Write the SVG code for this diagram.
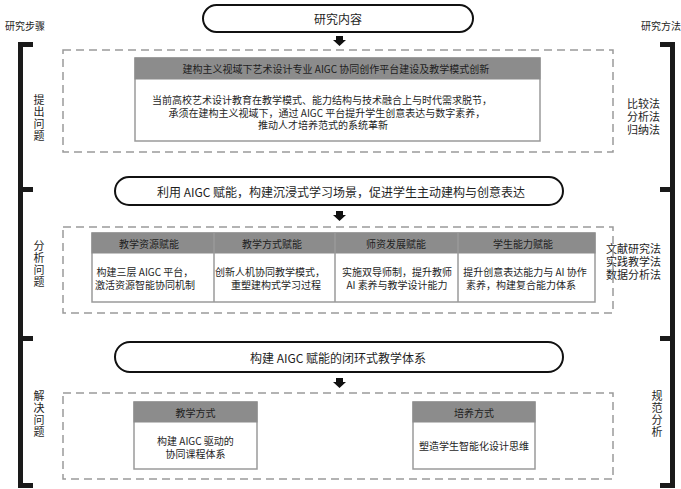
<svg xmlns="http://www.w3.org/2000/svg" width="681" height="489" viewBox="0 0 681 489">
<style>
text{font-family:"Noto Sans CJK SC","Liberation Sans",sans-serif;fill:#1e1e1e;dominant-baseline:central}
.pill{fill:#fff;stroke:#111;stroke-width:2}
.dash{fill:none;stroke:#9a9a9a;stroke-width:1.5;stroke-dasharray:8 5}
.box{fill:#fff;stroke:#9a9a9a;stroke-width:1.5}
.hdr{fill:#8c8c8c;stroke:#8c8c8c;stroke-width:1}
.div{stroke:#9a9a9a;stroke-width:1.5}
.brk{fill:#1a1a1a}
.arr{fill:#111}
.t10{font-size:10px}
.t11{font-size:11px}
.t12{font-size:12px}
.mid{text-anchor:middle}
.vert{font-size:11px;writing-mode:vertical-rl;text-anchor:middle;letter-spacing:1px}
</style>

<g id="side-left">
  <text class="t10" x="5" y="25">研究步骤</text>
  <rect class="brk" x="18" y="42" width="5" height="446"/>
  <rect class="brk" x="18" y="42" width="15" height="5"/>
  <rect class="brk" x="18" y="187" width="15" height="5"/>
  <rect class="brk" x="18" y="336" width="15" height="5"/>
  <rect class="brk" x="18" y="483" width="15" height="5"/>
  <text class="vert" x="39" y="118">提出问题</text>
  <text class="vert" x="39" y="264">分析问题</text>
  <text class="vert" x="39" y="414">解决问题</text>
</g>

<g id="side-right">
  <text class="t10" x="641" y="25">研究方法</text>
  <rect class="brk" x="670" y="42" width="5" height="446"/>
  <rect class="brk" x="660" y="42" width="15" height="5"/>
  <rect class="brk" x="660" y="187" width="15" height="5"/>
  <rect class="brk" x="660" y="336" width="15" height="5"/>
  <rect class="brk" x="660" y="483" width="15" height="5"/>
  <text class="t11"><tspan x="627" y="103">比较法</tspan><tspan x="627" y="116">分析法</tspan><tspan x="627" y="129">归纳法</tspan></text>
  <text class="t11"><tspan x="606" y="248">文献研究法</tspan><tspan x="606" y="261">实践教学法</tspan><tspan x="606" y="274">数据分析法</tspan></text>
  <text class="vert" x="657" y="414">规范分析</text>
</g>

<g id="connectors">
  <polygon class="arr" points="336,36 343,36 343,40 346,40 339.5,46 333,40 336,40"/>
  <polygon class="arr" points="336,211 343,211 343,215 346,215 339.5,221 333,215 336,215"/>
  <polygon class="arr" points="336,378 343,378 343,382 346,382 339.5,388 333,382 336,382"/>
</g>

<g id="research-content">
  <rect class="pill" x="203" y="5" width="270" height="27" rx="13.5"/>
  <text class="t12 mid" x="338" y="18.5">研究内容</text>
</g>

<g id="stage1">
  <rect class="dash" x="63" y="50" width="550" height="102"/>
  <rect class="box" x="135" y="58" width="405" height="83"/>
  <rect class="hdr" x="135" y="58" width="405" height="21"/>
  <text class="t10 mid" x="336" y="68.5">建构主义视域下艺术设计专业 AIGC 协同创作平台建设及教学模式创新</text>
  <text class="t10 mid"><tspan x="322" y="99">当前高校艺术设计教育在教学模式、能力结构与技术融合上与时代需求脱节，</tspan><tspan x="327" y="111.5">承须在建构主义视域下，通过 AIGC 平台提升学生创意表达与数字素养，</tspan><tspan x="323" y="124">推动人才培养范式的系统革新</tspan></text>
</g>

<g id="pill2">
  <rect class="pill" x="115" y="177" width="448" height="28" rx="14"/>
  <text class="t12 mid" x="341" y="191">利用 AIGC 赋能，构建沉浸式学习场景，促进学生主动建构与创意表达</text>
</g>

<g id="stage2">
  <rect class="dash" x="63" y="227" width="550" height="86"/>
  <rect class="box" x="92" y="233" width="503" height="69"/>
  <rect class="hdr" x="92" y="233" width="503" height="20"/>
  <line class="div" x1="214" y1="233" x2="214" y2="302"/>
  <line class="div" x1="335" y1="233" x2="335" y2="302"/>
  <line class="div" x1="458" y1="233" x2="458" y2="302"/>
  <text class="t10 mid" x="149" y="243">教学资源赋能</text>
  <text class="t10 mid" x="272" y="243">教学方式赋能</text>
  <text class="t10 mid" x="396" y="243">师资发展赋能</text>
  <text class="t10 mid" x="523" y="243">学生能力赋能</text>
  <text class="t10 mid"><tspan x="145" y="271">构建三层 AIGC 平台，</tspan><tspan x="145" y="284">激活资源智能协同机制</tspan></text>
  <text class="t10 mid"><tspan x="270" y="271">创新人机协同教学模式，</tspan><tspan x="276" y="284">重塑建构式学习过程</tspan></text>
  <text class="t10 mid"><tspan x="397" y="271">实施双导师制，提升教师</tspan><tspan x="397" y="284">AI 素养与教学设计能力</tspan></text>
  <text class="t10 mid"><tspan x="525" y="271">提升创意表达能力与 AI 协作</tspan><tspan x="521" y="284">素养，构建复合能力体系</tspan></text>
</g>

<g id="pill3">
  <rect class="pill" x="115" y="342" width="448" height="30" rx="15"/>
  <text class="t12 mid" x="338" y="357">构建 AIGC 赋能的闭环式教学体系</text>
</g>

<g id="stage3">
  <rect class="dash" x="63" y="393" width="550" height="86"/>
  <g id="teaching-mode">
    <rect class="box" x="134" y="402" width="123" height="67"/>
    <rect class="hdr" x="134" y="402" width="123" height="20"/>
    <text class="t10 mid" x="195.5" y="412">教学方式</text>
    <text class="t10 mid"><tspan x="195.5" y="440">构建 AIGC 驱动的</tspan><tspan x="195.5" y="453">协同课程体系</tspan></text>
  </g>
  <g id="training-mode">
    <rect class="box" x="413" y="402" width="122" height="67"/>
    <rect class="hdr" x="413" y="402" width="122" height="20"/>
    <text class="t10 mid" x="474" y="412">培养方式</text>
    <text class="t10 mid" x="474" y="445">塑造学生智能化设计思维</text>
  </g>
</g>
</svg>
